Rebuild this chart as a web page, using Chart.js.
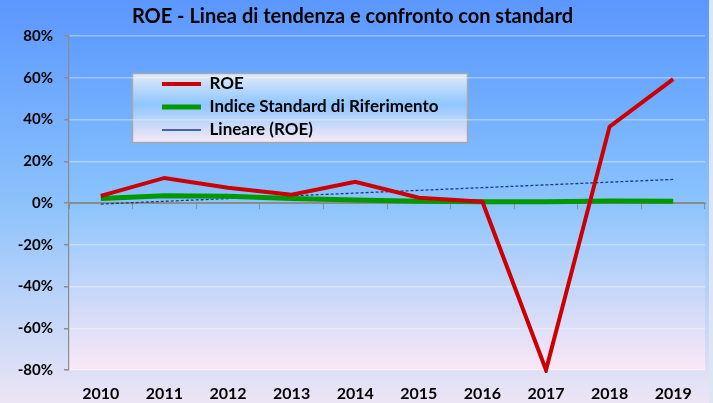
<!DOCTYPE html>
<html>
<head>
<meta charset="utf-8">
<script src="https://cdn.jsdelivr.net/npm/chart.js@4/dist/chart.umd.min.js"></script>
<style>
  html, body { margin: 0; padding: 0; background: #dde5f5; }
  #wrap { width: 713px; height: 403px; }
</style>
</head>
<body>
<div id="wrap"><canvas id="roeChart" width="713" height="403"></canvas></div>
<script>
const years = ['2010', '2011', '2012', '2013', '2014', '2015', '2016', '2017', '2018', '2019'];
const roe = [3.4, 12.0, 7.3, 4.0, 10.2, 2.5, 0.6, -80, 36.6, 59.3];
const standard = [2.2, 3.5, 3.2, 2.2, 1.4, 0.8, 0.6, 0.6, 0.9, 0.8];
const trendStart = -0.5;   // Lineare (ROE) at 2010
const trendEnd = 11.3;     // Lineare (ROE) at 2019
const yTicks = [-80, -60, -40, -20, 0, 20, 40, 60, 80];

const FONT = 'Lato, "Noto Sans", sans-serif';
const GREY = '#8c8c8c';

// background, plot area and legend box
const backdrop = {
    id: 'backdrop',
    afterLayout(chart) {
        const lg = chart.legend;
        lg.left = 156;
        lg.top = 69.5;
        lg.right = lg.left + lg.width;
        lg.bottom = lg.top + lg.height;
    },
    beforeDraw(chart) {
        const { ctx, chartArea: a, width, height } = chart;
        ctx.save();
        let g = ctx.createLinearGradient(0, 0, 0, height);
        g.addColorStop(0, '#5b97fe');
        g.addColorStop(0.5, '#8bc2fb');
        g.addColorStop(1, '#ede5f5');
        ctx.fillStyle = g;
        ctx.fillRect(0, 0, width, height);
        ctx.fillStyle = '#dde5f5';
        ctx.fillRect(709, 0, 4, height);

        g = ctx.createLinearGradient(0, a.top, 0, a.bottom);
        g.addColorStop(0, '#5f9dff');
        g.addColorStop(0.5, '#8bc4fd');
        g.addColorStop(1, '#fae8f6');
        ctx.fillStyle = g;
        ctx.fillRect(a.left, a.top, a.right - a.left, a.bottom - a.top);

        // legend frame
        const bx = 132.5, by = 73.5, bw = 335, bh = 69;
        g = ctx.createLinearGradient(0, by, 0, by + bh);
        g.addColorStop(0, '#e2ebf8');
        g.addColorStop(0.45, '#8fc6ff');
        g.addColorStop(1, '#f7eaf6');
        ctx.fillStyle = g;
        ctx.fillRect(bx, by, bw, bh);
        ctx.strokeStyle = '#a9a9a9';
        ctx.lineWidth = 1.5;
        ctx.strokeRect(bx, by, bw, bh);
        ctx.restore();
    }
};

new Chart(document.getElementById('roeChart'), {
    type: 'line',
    data: {
        labels: years,
        datasets: [
            {
                label: 'ROE',
                data: roe,
                borderColor: '#cc0000',
                backgroundColor: '#cc0000',
                borderWidth: 4,
                pointRadius: 0,
                tension: 0,
                clip: 3
            },
            {
                label: 'Indice Standard di Riferimento',
                data: standard,
                borderColor: '#009a00',
                backgroundColor: '#009a00',
                borderWidth: 5,
                pointRadius: 0,
                tension: 0
            },
            {
                label: 'Lineare (ROE)',
                data: [{ x: years[0], y: trendStart }, { x: years[years.length - 1], y: trendEnd }],
                borderColor: '#1b3a82',
                backgroundColor: '#1b3a82',
                borderWidth: 1.3,
                borderDash: [3, 2],
                pointRadius: 0,
                tension: 0
            }
        ]
    },
    options: {
        responsive: false,
        animation: false,
        layout: { padding: { left: 0, right: 8, top: 0, bottom: 0 } },
        scales: {
            x: {
                type: 'category',
                offset: true,
                grid: { display: false },
                border: { display: false },
                ticks: {
                    padding: 6,
                    color: '#000',
                    font: { family: FONT, size: 16, weight: 'bold' }
                },
                afterFit(scale) { scale.height = 33; }
            },
            x2: {
                type: 'category',
                labels: years,
                position: { y: 0 },
                offset: true,
                grid: {
                    offset: true,
                    drawOnChartArea: false,
                    drawTicks: true,
                    tickLength: 5,
                    tickColor: GREY,
                    color: GREY
                },
                border: { color: GREY, width: 1 },
                ticks: { display: false },
                afterFit(scale) { scale.height = 0; }
            },
            y: {
                min: -80,
                max: 80,
                afterBuildTicks(scale) { scale.ticks = yTicks.map(v => ({ value: v })); },
                grid: {
                    color: ctx => ctx.tick && ctx.tick.value === 0 ? GREY : 'rgba(255,255,255,0.35)',
                    lineWidth: 1.5,
                    tickLength: 5,
                    tickColor: GREY
                },
                border: { color: GREY, width: 1.2 },
                ticks: {
                    padding: 11,
                    color: '#000',
                    font: { family: FONT, size: 15, weight: 'bold' },
                    callback: v => v + '%'
                },
                afterFit(scale) { scale.width = 69; }
            }
        },
        plugins: {
            title: {
                display: true,
                text: 'ROE - Linea di tendenza e confronto con standard',
                color: '#000',
                font: { family: FONT, size: 20, weight: 'bold' },
                padding: { top: 5, bottom: 7 }
            },
            legend: {
                position: 'chartArea',
                align: 'start',
                labels: {
                    usePointStyle: true,
                    pointStyle: 'line',
                    pointStyleWidth: 39,
                    padding: 6,
                    color: '#000',
                    font: { family: FONT, size: 17, weight: 'bold' }
                }
            },
            tooltip: { enabled: false }
        }
    },
    plugins: [backdrop]
});
</script>
</body>
</html>
